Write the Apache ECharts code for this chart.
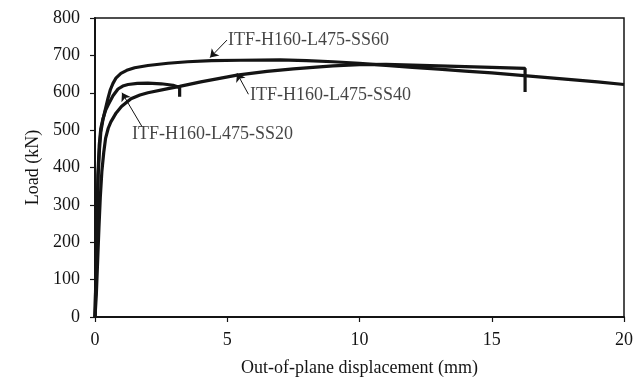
<!DOCTYPE html>
<html>
<head>
<meta charset="utf-8">
<script src="https://cdn.jsdelivr.net/npm/echarts@6/dist/echarts.min.js"></script>
<style>
  html, body { margin: 0; padding: 0; background: #fff; }
  #chart { width: 643px; height: 382px; }
</style>
</head>
<body>
<div id="chart"></div>
<script>
// displacement (mm), load (kN)
const ss60 = [
  [0, 0], [0.04, 120], [0.08, 260], [0.12, 380], [0.17, 450], [0.22, 495],
  [0.3, 528], [0.4, 558], [0.49, 585], [0.58, 608], [0.68, 625], [0.8, 640],
  [0.98, 652], [1.2, 660], [1.5, 667], [2.0, 673], [2.76, 679], [3.5, 683],
  [4.4, 686], [5.5, 687], [7, 688], [8, 686], [9, 683], [10, 679],
  [11, 673], [12, 668], [13, 663], [14, 658], [15, 653], [16, 647],
  [17, 641], [18, 635], [19, 629], [20, 622]
];
const ss40 = [
  [0, 0], [0.05, 60], [0.1, 150], [0.15, 240], [0.2, 320], [0.26, 390],
  [0.33, 440], [0.4, 478], [0.5, 505], [0.6, 522], [0.8, 546], [1.0, 563],
  [1.36, 584], [1.7, 594], [2.0, 600], [2.76, 611], [3.2, 617], [4.0, 629],
  [5.37, 647], [6.5, 657], [7.5, 664], [8.24, 668], [9, 672], [10, 675],
  [11, 676], [12, 674], [13, 672], [14, 670], [15, 668], [16.26, 665],
  [16.26, 602]
];
const ss20 = [
  [0, 0], [0.03, 100], [0.07, 250], [0.11, 380], [0.16, 460], [0.22, 505],
  [0.3, 530], [0.4, 553], [0.5, 568], [0.68, 592], [0.87, 610], [1.05, 618],
  [1.25, 622], [1.6, 625], [2.0, 626], [2.5, 624], [2.95, 620], [3.2, 614],
  [3.2, 589]
];

const seriesNames = ['ITF-H160-L475-SS60', 'ITF-H160-L475-SS40', 'ITF-H160-L475-SS20'];
// text anchor (left edge, middle) of each annotation
const labelPos = [[5.03, 740], [5.86, 592], [1.4, 488]];
// arrow tail -> tip
const arrows = [
  [[4.99, 741], [4.35, 694]],
  [[5.8, 596], [5.37, 652]],
  [[1.78, 509], [1.02, 600]]
];

const xTicks = [0, 5, 10, 15, 20];
const yTicks = [0, 100, 200, 300, 400, 500, 600, 700, 800];

const font = 'Liberation Serif';
const ink = '#141414';

const chart = echarts.init(document.getElementById('chart'));
chart.setOption({
  animation: false,
  backgroundColor: '#fff',
  grid: {
    left: 95, right: 19, top: 18, bottom: 62,
    show: true, borderColor: ink, borderWidth: 1.5, backgroundColor: 'transparent'
  },
  xAxis: {
    type: 'value',
    min: xTicks[0], max: xTicks[xTicks.length - 1], interval: 5,
    name: 'Out-of-plane displacement (mm)',
    nameLocation: 'middle', nameGap: 42,
    nameTextStyle: { fontFamily: font, fontSize: 18, color: ink },
    axisLine: { lineStyle: { color: ink, width: 2 } },
    axisTick: { inside: false, length: 5, lineStyle: { color: ink, width: 1.2 } },
    axisLabel: { fontFamily: font, fontSize: 18, color: ink, margin: 14 },
    splitLine: { show: false }
  },
  yAxis: {
    type: 'value',
    min: yTicks[0], max: yTicks[yTicks.length - 1], interval: 100,
    name: 'Load (kN)',
    nameLocation: 'middle', nameGap: 52,
    nameTextStyle: { fontFamily: font, fontSize: 18, color: ink },
    axisLine: { show: true, lineStyle: { color: ink, width: 2 } },
    axisTick: { show: true, inside: false, length: 5, lineStyle: { color: ink, width: 1.2 } },
    axisLabel: { fontFamily: font, fontSize: 18, color: ink, margin: 15 },
    splitLine: { show: false }
  },
  series: [
    ...[ss60, ss40, ss20].map((d, i) => ({
      name: seriesNames[i],
      type: 'line',
      data: d,
      showSymbol: false,
      symbol: 'none',
      lineStyle: { color: ink, width: 3.2 },
      z: 3
    })),
    {
      type: 'lines',
      coordinateSystem: 'cartesian2d',
      symbol: ['none', 'arrow'],
      symbolSize: 8,
      lineStyle: { color: ink, width: 1, opacity: 1 },
      data: arrows.map(a => ({ coords: a })),
      z: 4
    },
    {
      type: 'scatter',
      symbolSize: 0,
      data: labelPos.map((p, i) => ({ value: p, name: seriesNames[i] })),
      label: {
        show: true, position: 'right', distance: 0,
        formatter: p => p.name,
        fontFamily: font, fontSize: 18, color: ink
      },
      z: 5
    }
  ]
});
</script>
</body>
</html>
